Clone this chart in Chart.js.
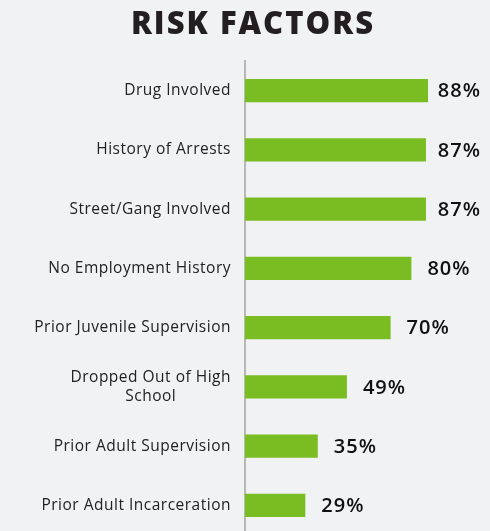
<!DOCTYPE html>
<html>
<head>
<meta charset="utf-8">
<script src="https://cdn.jsdelivr.net/npm/chart.js@4.4.1/dist/chart.umd.min.js"></script>
<style>
  html, body { margin: 0; padding: 0; background: #f1f2f4; overflow: hidden; }
  .wrap { width: 490px; height: 536px; position: relative; }
</style>
</head>
<body>
<div class="wrap"><canvas id="chart"></canvas></div>
<script>
// Datos
const titleText = 'RISK FACTORS';
const categories = [
  'Drug Involved',
  'History of Arrests',
  'Street/Gang Involved',
  'No Employment History',
  'Prior Juvenile Supervision',
  ['Dropped Out of High', 'School'],
  'Prior Adult Supervision',
  'Prior Adult Incarceration'
];
const values = [88, 87, 87, 80, 70, 49, 35, 29];

const LABEL_FONT = '15.5px "Open Sans", sans-serif';
const VALUE_FONT = '600 20px "Open Sans", sans-serif';
const TITLE_FONT = '800 31px "Open Sans", sans-serif';

// Título (centrado sobre el gráfico completo)
const titlePlugin = {
  id: 'customTitle',
  afterDraw(chart) {
    const ctx = chart.ctx;
    ctx.save();
    ctx.font = TITLE_FONT;
    ctx.letterSpacing = '2px';
    ctx.fillStyle = '#231f20';
    ctx.textAlign = 'center';
    ctx.textBaseline = 'middle';
    ctx.fillText(titleText, 253, 25);
    ctx.restore();
  }
};

// Etiquetas del eje Y (alineadas a la derecha, multilínea centrada)
const yLabelsPlugin = {
  id: 'yLabels',
  afterDraw(chart) {
    const ctx = chart.ctx;
    const yScale = chart.scales.y;
    const rightX = 231;
    ctx.save();
    ctx.font = LABEL_FONT;
    ctx.letterSpacing = '0.5px';
    ctx.fillStyle = '#222';
    ctx.textBaseline = 'middle';
    categories.forEach((lab, i) => {
      const y = yScale.getPixelForTick(i);
      if (Array.isArray(lab)) {
        const maxW = Math.max(...lab.map(l => ctx.measureText(l).width));
        const cx = rightX - maxW / 2;
        const lh = 19;
        ctx.textAlign = 'center';
        lab.forEach((line, j) => {
          ctx.fillText(line, cx, y + (j - (lab.length - 1) / 2) * lh);
        });
      } else {
        ctx.textAlign = 'right';
        ctx.fillText(lab, rightX, y);
      }
    });
    ctx.restore();
  }
};

// Valores al final de cada barra
const valueLabelsPlugin = {
  id: 'valueLabels',
  afterDatasetsDraw(chart) {
    const ctx = chart.ctx;
    const meta = chart.getDatasetMeta(0);
    ctx.save();
    ctx.font = VALUE_FONT;
    ctx.letterSpacing = '1px';
    ctx.fillStyle = '#111';
    ctx.textBaseline = 'middle';
    ctx.textAlign = 'left';
    meta.data.forEach((bar, i) => {
      const txt = values[i] + '%';
      const w = ctx.measureText(txt).width;
      const x = Math.min(bar.x + 16, chart.width - 9 - w);
      ctx.fillText(txt, x, bar.y + 1);
    });
    ctx.restore();
  }
};

new Chart(document.getElementById('chart'), {
  type: 'bar',
  data: {
    labels: categories,
    datasets: [{
      data: values,
      backgroundColor: '#79bd22',
      borderWidth: 0,
      barPercentage: 0.39,
      categoryPercentage: 1
    }]
  },
  options: {
    indexAxis: 'y',
    responsive: true,
    maintainAspectRatio: false,
    animation: false,
    layout: { padding: { left: 0, right: 37, top: 61, bottom: 1 } },
    scales: {
      x: {
        display: false,
        min: 0,
        max: 100
      },
      y: {
        grid: { display: false, drawTicks: false },
        border: { display: true, color: '#b7b7b7', width: 2 },
        ticks: { display: false },
        afterFit(scale) { scale.width = 245; }
      }
    },
    plugins: {
      legend: { display: false },
      tooltip: { enabled: false },
      title: { display: false }
    }
  },
  plugins: [titlePlugin, yLabelsPlugin, valueLabelsPlugin]
});
</script>
</body>
</html>
